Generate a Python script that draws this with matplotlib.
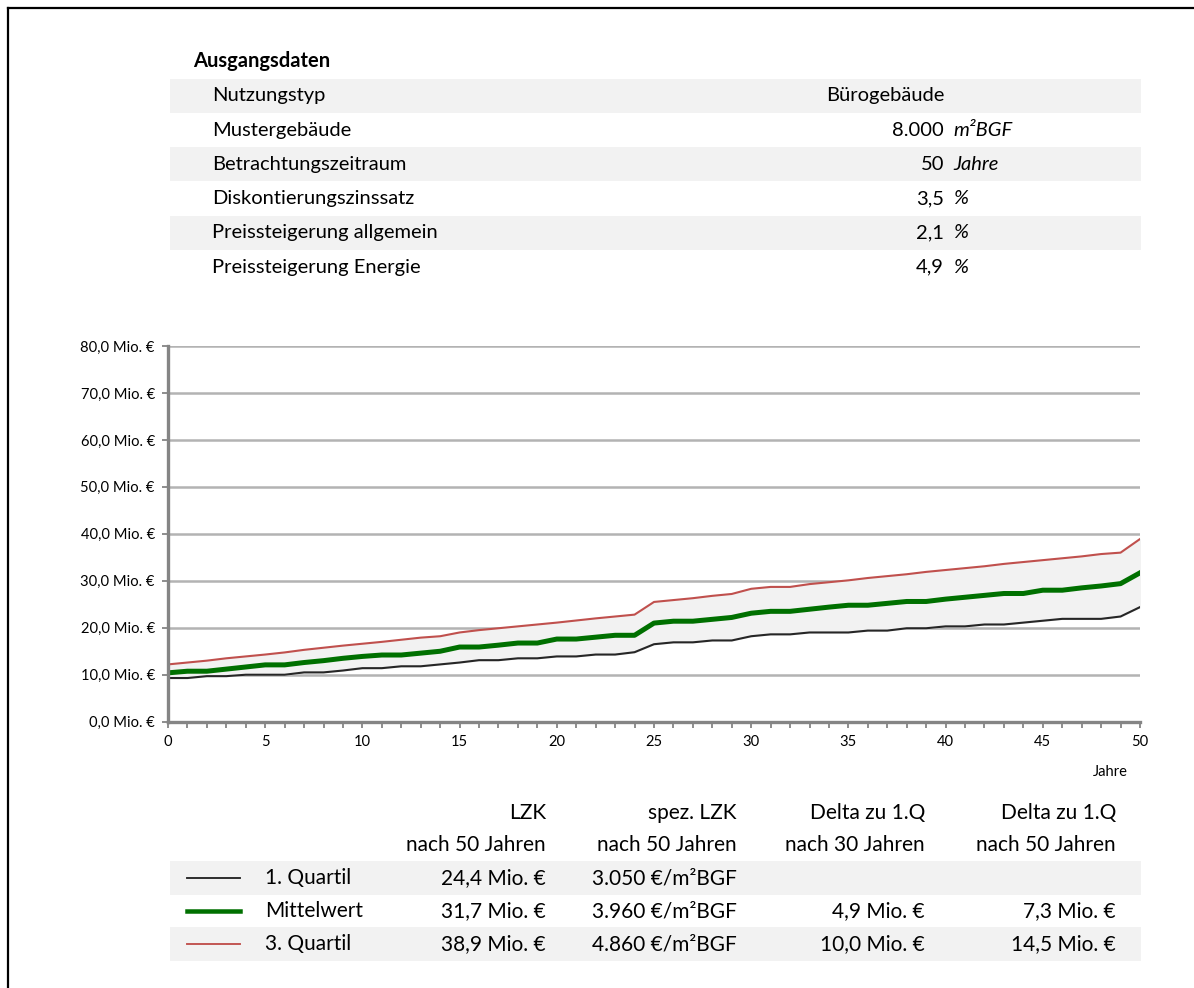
import matplotlib
matplotlib.use('Agg')
import matplotlib.pyplot as plt
from matplotlib.patches import Rectangle
from matplotlib.lines import Line2D

W, H = 1194, 988

# Ausgangsdaten
param_labels = ['Nutzungstyp', 'Mustergebäude', 'Betrachtungszeitraum',
                'Diskontierungszinssatz', 'Preissteigerung allgemein', 'Preissteigerung Energie']
param_values = ['Bürogebäude', '8.000', '50', '3,5', '2,1', '4,9']
param_units = ['', 'm²BGF', 'Jahre', '%', '%', '%']

# Lebenszykluskosten in Mio. €
years = list(range(51))
q1 = [9.3, 9.3, 9.7, 9.7, 10.0, 10.0, 10.0, 10.5, 10.5, 10.9, 11.4, 11.4, 11.8, 11.8, 12.2,
      12.6, 13.1, 13.1, 13.5, 13.5, 13.9, 13.9, 14.3, 14.3, 14.8, 16.5, 16.9, 16.9, 17.3, 17.3,
      18.2, 18.6, 18.6, 19.0, 19.0, 19.0, 19.4, 19.4, 19.9, 19.9, 20.3, 20.3, 20.7, 20.7, 21.1,
      21.5, 21.9, 21.9, 21.9, 22.4, 24.4]
mittel = [10.4, 10.75, 10.75, 11.2, 11.65, 12.1, 12.1, 12.6, 13.0, 13.5, 13.9, 14.2, 14.2, 14.6,
          15.0, 15.9, 15.9, 16.3, 16.75, 16.75, 17.6, 17.6, 18.0, 18.4, 18.4, 21.0, 21.4, 21.4,
          21.8, 22.2, 23.1, 23.5, 23.5, 23.95, 24.4, 24.8, 24.8, 25.2, 25.6, 25.6, 26.1, 26.5,
          26.9, 27.3, 27.3, 28.0, 28.0, 28.5, 28.9, 29.4, 31.7]
q3 = [12.2, 12.6, 13.0, 13.5, 13.9, 14.3, 14.75, 15.3, 15.75, 16.2, 16.6, 17.0, 17.45, 17.9,
      18.2, 19.0, 19.5, 19.9, 20.3, 20.7, 21.1, 21.55, 22.0, 22.4, 22.8, 25.5, 25.9, 26.3, 26.8,
      27.2, 28.3, 28.7, 28.7, 29.3, 29.7, 30.1, 30.6, 31.0, 31.4, 31.9, 32.3, 32.7, 33.1, 33.6,
      34.0, 34.4, 34.8, 35.2, 35.7, 36.0, 38.9]

# Ergebnistabelle
col_head1 = ['LZK', 'spez. LZK', 'Delta zu 1.Q', 'Delta zu 1.Q']
col_head2 = ['nach 50 Jahren', 'nach 50 Jahren', 'nach 30 Jahren', 'nach 50 Jahren']
row_names = ['1. Quartil', 'Mittelwert', '3. Quartil']
lzk = ['24,4 Mio. €', '31,7 Mio. €', '38,9 Mio. €']
spez_lzk = ['3.050 €/m²BGF', '3.960 €/m²BGF', '4.860 €/m²BGF']
delta30 = ['', '4,9 Mio. €', '10,0 Mio. €']
delta50 = ['', '7,3 Mio. €', '14,5 Mio. €']

colors = ['#262626', '#007000', '#c0504d']
widths = [1.5, 3.6, 1.5]

plt.rcParams['font.family'] = ['Lato', 'DejaVu Sans']
fig = plt.figure(figsize=(W / 100, H / 100), dpi=100)


def fx(px):
    return px / W


def fy(py):
    return 1 - py / H


def band(y0, y1):
    fig.add_artist(Rectangle((fx(170), fy(y1)), fx(1141) - fx(170), fy(y0) - fy(y1),
                             transform=fig.transFigure, facecolor='#f2f2f2', edgecolor='none', zorder=0))


# Rahmen
fig.add_artist(Line2D([fx(8), fx(8)], [fy(988), fy(8)], color='black', lw=1.6))
fig.add_artist(Line2D([fx(8), fx(1194)], [fy(8), fy(8)], color='black', lw=1.6))

# Tabelle Ausgangsdaten
fig.text(fx(193), fy(61), 'Ausgangsdaten', fontsize=14.5, fontweight='bold', va='center')
for i, (lab, val, unit) in enumerate(zip(param_labels, param_values, param_units)):
    yc = 96 + i * 34.2
    if i % 2 == 0:
        band(yc - 17, yc + 17)
    fig.text(fx(212), fy(yc), lab, fontsize=14.5, va='center')
    fig.text(fx(944), fy(yc), val, fontsize=14.5, va='center', ha='right')
    if unit:
        fig.text(fx(953), fy(yc), unit, fontsize=14.5, va='center', style='italic')

# Diagramm
ax = fig.add_axes([fx(168), fy(721.7), fx(1140) - fx(168), fy(346) - fy(721.7)])
ax.fill_between(years, q1, q3, color='#f2f2f2', zorder=1)
ax.plot(years, q1, color=colors[0], lw=widths[0], zorder=3)
ax.plot(years, q3, color=colors[2], lw=widths[2], zorder=3)
ax.plot(years, mittel, color=colors[1], lw=widths[1], zorder=4)
ax.set_xlim(0, 50)
ax.set_ylim(0, 80)
ax.set_yticks(range(0, 81, 10))
ax.set_yticklabels([f'{v:.1f}'.replace('.', ',') + ' Mio. €' for v in range(0, 81, 10)])
ax.set_xticks(range(0, 51, 5))
ax.set_xticks(range(0, 51), minor=True)
ax.grid(axis='y', color='#b3b3b3', lw=1.8, zorder=0)
ax.set_axisbelow(True)
for s in ['top', 'right']:
    ax.spines[s].set_visible(False)
for s in ['left', 'bottom']:
    ax.spines[s].set_color('#858585')
    ax.spines[s].set_linewidth(2.4)
    ax.spines[s].set_zorder(5)
ax.tick_params(axis='both', which='both', direction='out', color='#858585', width=1.3, length=4.5,
               labelsize=10.6, colors='#858585', labelcolor='black')
ax.tick_params(axis='y', pad=5)
ax.tick_params(axis='x', pad=5)
fig.text(fx(1110), fy(772), 'Jahre', fontsize=10.6, ha='center', va='center')

# Ergebnistabelle
col_right = [546, 737, 925, 1116]
for x, h1, h2 in zip(col_right, col_head1, col_head2):
    fig.text(fx(x), fy(813), h1, fontsize=15, ha='right', va='center')
    fig.text(fx(x), fy(845), h2, fontsize=15, ha='right', va='center')
for i in range(3):
    yc = 878 + i * 33
    if i % 2 == 0:
        band(yc - 17, yc + 17)
    fig.add_artist(Line2D([fx(187), fx(240)], [fy(yc), fy(yc)], color=colors[i], lw=widths[i] * 0.9))
    fig.text(fx(265), fy(yc), row_names[i], fontsize=15, va='center')
    for x, v in zip(col_right, [lzk[i], spez_lzk[i], delta30[i], delta50[i]]):
        fig.text(fx(x), fy(yc), v, fontsize=15, ha='right', va='center')

fig.savefig('out.png', dpi=100)
